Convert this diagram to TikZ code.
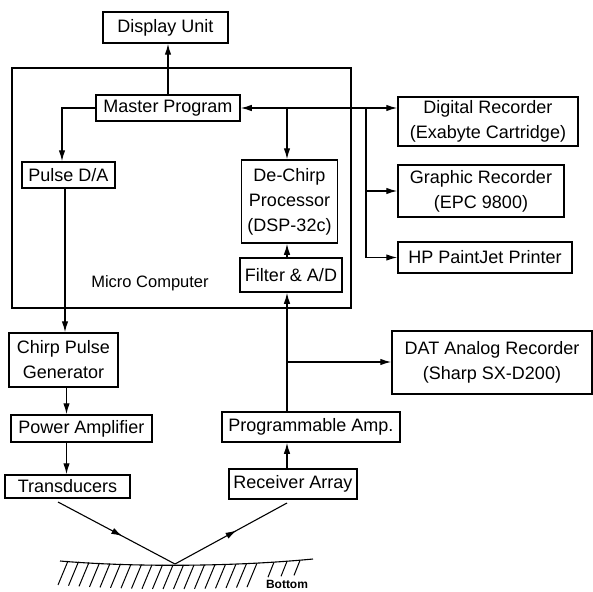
\documentclass[tikz,border=0pt]{standalone}
\usepackage{fontspec}
\setmainfont{Liberation Sans}
\usetikzlibrary{arrows.meta,positioning,calc,decorations.markings}
\tikzstyle{blockbox}=[rectangle, draw, line width=1.5pt, inner sep=0pt, align=center, font=\fontsize{18}{25}\selectfont]
\tikzstyle{sigline}=[-{Latex[length=11pt,width=6.5pt]}, line width=1.2pt]
\tikzstyle{rayline}=[line width=1.1pt, decoration={markings, mark=at position 0.55 with {\arrow{Latex[length=11pt,width=6.5pt]}}}, postaction={decorate}]
\tikzstyle{hatchline}=[line width=1pt]

\begin{document}
\begin{tikzpicture}[x=1pt, y=-1pt]
    \useasboundingbox (0,0) rectangle (593,591);

    % Micro computer frame
    \node[draw, line width=1.5pt, inner sep=0pt, minimum width=339pt, minimum height=240pt] (mc) at (181.5,188) {};
    \node[font=\fontsize{16.5}{20}\selectfont] (mclabel) at (150,283) {Micro Computer};

    % Inside the computer
    \node[blockbox, minimum width=125pt, minimum height=31pt] (disp) at (165.5,27.5) {Display Unit};
    \node[blockbox, minimum width=144pt, minimum height=26pt] (master) at (168,108) {Master Program};
    \node[blockbox, minimum width=93pt, minimum height=26pt] (pulse) at (68.5,175) {Pulse D/A};
    \node[blockbox, minimum width=96pt, minimum height=83pt] (dechirp) at (289.5,201.5)
      {De-Chirp\\Processor\\(DSP-32c)};
    \node[blockbox, minimum width=102pt, minimum height=34pt] (filter) at (291,275) {Filter \& A/D};

    % Recorders and printer
    \node[blockbox, minimum width=180pt, minimum height=49pt] (digrec) at (488,121.5)
      {Digital Recorder\\(Exabyte Cartridge)};
    \node[blockbox, minimum width=166pt, minimum height=52pt] (graphrec) at (481,191)
      {Graphic Recorder\\(EPC 9800)};
    \node[blockbox, minimum width=174pt, minimum height=31pt] (hp) at (485,257.5) {HP PaintJet Printer};
    \node[blockbox, minimum width=200pt, minimum height=63pt] (dat) at (492,362.5)
      {DAT Analog Recorder\\(Sharp SX-D200)};

    % Transmit chain
    \node[blockbox, minimum width=109pt, minimum height=54pt] (chirp) at (63.5,360) {Chirp Pulse\\Generator};
    \node[blockbox, minimum width=141pt, minimum height=27pt] (power) at (81.5,428.5) {Power Amplifier};
    \node[blockbox, minimum width=125pt, minimum height=23pt] (trans) at (67.5,486.5) {Transducers};

    % Receive chain
    \node[blockbox, minimum width=178pt, minimum height=30pt] (prog) at (311,427) {Programmable Amp.};
    \node[blockbox, minimum width=128pt, minimum height=30pt] (recv) at (293,484) {Receiver Array};

    % Taps
    \coordinate (tapA) at (287,108);
    \coordinate (tapB) at (366,108);
    \coordinate (tapC) at (287,362);

    % Connectors
    \draw[sigline] (master.north) -- (master.north |- disp.south);
    \draw[sigline] (master.west) -| ([xshift=-6.5pt]pulse.north);
    \draw[sigline] ([xshift=-3.5pt]pulse.south) -- ([xshift=-3.5pt]pulse.south |- chirp.north);
    \draw[sigline] ([xshift=3pt]chirp.south) -- ([xshift=3pt]chirp.south |- power.north);
    \draw[sigline] ([xshift=-15pt]power.south) -- ([xshift=-15pt]power.south |- trans.north);
    \draw[sigline, {Latex[length=11pt,width=6.5pt]}-{Latex[length=11pt,width=6.5pt]}] (master.east) -- (master.east -| digrec.west);
    \draw[sigline] (tapA) -- (tapA |- dechirp.north);
    \draw[sigline] (tapB) |- (hp.west);
    \draw[sigline] (tapB |- graphrec.west) -- (graphrec.west);
    \draw[sigline] (tapA |- filter.north) -- (tapA |- dechirp.south);
    \draw[sigline] (tapA |- prog.north) -- (tapA |- filter.south);
    \draw[sigline] (tapC) -- (tapC -| dat.west);
    \draw[sigline] (tapA |- recv.north) -- (tapA |- prog.south);

    % Sound path to the bottom
    \coordinate (txfoot) at (58,502);
    \coordinate (echo) at (175,564);
    \coordinate (rxfoot) at (287,503);
    \draw[rayline] (txfoot) -- (echo);
    \draw[rayline] (echo) -- (rxfoot);

    % Sea bottom
    \draw[line width=1.1pt] (60,561) .. controls (130,567) and (230,567) .. (313,559);
    \foreach \x in {68,78.5,...,262} {
      \pgfmathsetmacro{\yy}{565-5*((\x-180)/125)^2}
      \draw[hatchline] (\x,\yy) -- ++(-10,24);
    }
    \foreach \x in {274,287,300} {
      \pgfmathsetmacro{\yy}{565-5*((\x-180)/125)^2}
      \draw[hatchline] (\x,\yy) -- ++(-6,15);
    }
    \node[font=\bfseries\fontsize{12}{14}\selectfont] (bottomlbl) at (287,584) {Bottom};
  \end{tikzpicture}
\end{document}
